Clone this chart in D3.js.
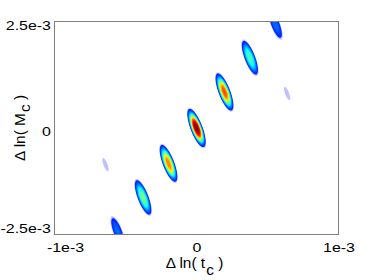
<!DOCTYPE html>
<meta charset="utf-8">
<style>
  body {
    margin: 0;
    background: #fff;
  }

  text {
    font-family: "Liberation Sans", Arial, sans-serif;
    fill: #000;
  }
</style>

<body>
  <div id="chart"></div>

  <script src="https://d3js.org/d3.v7.min.js"></script>

  <script>
    // likelihood peaks: position (delta ln tc, delta ln Mc) and height
    const peakT = [-0.555e-3, -0.376e-3, -0.197e-3, 0, 0.197e-3, 0.376e-3, 0.556e-3, -0.641e-3, 0.638e-3];
    const peakM = [-2.43e-3, -1.63e-3, -0.83e-3, 0, 0.845e-3, 1.65e-3, 2.43e-3, -0.86e-3, 0.81e-3];
    const peakH = [0.14, 0.44, 0.72, 1.0, 0.78, 0.39, 0.14, 0.034, 0.034];

    const xTicks = [-1e-3, 0, 1e-3];
    const xTickLabels = ["-1e-3", "0", "1e-3"];
    const yTicks = [-2.5e-3, 0, 2.5e-3];
    const yTickLabels = ["-2.5e-3", "0", "2.5e-3"];

    const width = 374;
    const height = 280;
    const margin = {left: 54.5, right: 35.5, top: 21.5, bottom: 45.5};

    const x = d3.scaleLinear()
      .domain([-1e-3, 1e-3])
      .range([margin.left, width - margin.right]);

    const y = d3.scaleLinear()
      .domain([-2.5e-3, 2.5e-3])
      .range([height - margin.bottom, margin.top]);

    // matlab jet colormap
    const jet = d3.scaleLinear()
      .domain([0, 0.125, 0.375, 0.625, 0.875, 1])
      .range(["#00007f", "#0000ff", "#00ffff", "#ffff00", "#ff0000", "#7f0000"])
      .interpolate(d3.interpolateRgb)
      .clamp(true);

    const svg = d3.select("#chart").append("svg")
      .attr("width", width)
      .attr("height", height);

    // sample the surface on a half pixel grid over the plot box
    const step = 0.5;
    const nx = Math.round((x.range()[1] - x.range()[0]) / step);
    const ny = Math.round((y.range()[0] - y.range()[1]) / step);
    const tilt = 21 * Math.PI / 180;
    const sa = Math.sin(tilt), ca = Math.cos(tilt);
    const sigA = 11.2, sigB = 3.2; // blob shape in px (long / short axis)

    const cx = peakT.map(d => x(d));
    const cy = peakM.map(d => y(d));

    const values = new Float64Array(nx * ny);
    for (let j = 0; j < ny; j++) {
      const py = margin.top + (j + 0.5) * step;
      for (let i = 0; i < nx; i++) {
        const px = margin.left + (i + 0.5) * step;
        let v = 0;
        for (let k = 0; k < peakH.length; k++) {
          const dx = px - cx[k], dy = py - cy[k];
          const u = (dx * sa + dy * ca) / sigA;
          const w = (dx * ca - dy * sa) / sigB;
          const r = Math.sqrt(u * u + w * w);
          v += peakH[k] * Math.exp(-0.5 * r * r * r);
        }
        values[j * nx + i] = v;
      }
    }

    const levels = [0.03].concat(d3.range(0.05, 1.0, 0.025));
    const bands = d3.contours()
      .size([nx, ny])
      .thresholds(levels)(values);

    svg.append("g")
      .attr("transform", `translate(${margin.left},${margin.top}) scale(${step})`)
      .selectAll("path")
      .data(bands)
      .join("path")
      .attr("d", d3.geoPath())
      .attr("fill", d => d.value < 0.05 ? "#c0c0ff" : jet(0.1 + 0.9 * (d.value + 0.0125)));

    // axes box
    svg.append("rect")
      .attr("x", x.range()[0])
      .attr("y", y.range()[1])
      .attr("width", x.range()[1] - x.range()[0])
      .attr("height", y.range()[0] - y.range()[1])
      .attr("fill", "none")
      .attr("stroke", "#808080")
      .attr("stroke-width", 1);

    const xAxis = svg.append("g")
      .attr("transform", `translate(0,${y.range()[0]})`)
      .call(d3.axisBottom(x)
        .tickValues(xTicks)
        .tickFormat((d, i) => xTickLabels[i])
        .tickSize(0)
        .tickPadding(9));
    xAxis.select(".domain").remove();
    xAxis.selectAll("text")
      .attr("font-size", 12)
      .attr("font-family", null)
      .attr("transform", (d, i) => `translate(${i === 0 ? 10.5 : 0},0) scale(1.33,1)`);

    const yAxis = svg.append("g")
      .attr("transform", `translate(${x.range()[0]},0)`)
      .call(d3.axisLeft(y)
        .tickValues(yTicks)
        .tickFormat((d, i) => yTickLabels[i])
        .tickSize(0)
        .tickPadding(3.5 / 1.33));
    yAxis.select(".domain").remove();
    yAxis.selectAll("text")
      .attr("font-size", 12)
      .attr("font-family", null)
      .attr("dy", (d, i) => i === 0 ? "-0.16em" : "0.63em")
      .attr("transform", "scale(1.33,1)");

    // axis titles
    const xTitle = svg.append("text")
      .attr("transform", `translate(${x(0) - 2},268) scale(1.1,1)`)
      .attr("text-anchor", "middle")
      .attr("font-size", 14);
    xTitle.append("tspan").text("\u0394 ln( t");
    xTitle.append("tspan").attr("dx", 1).attr("dy", 7).text("c");
    xTitle.append("tspan").attr("dy", -7).text(" )");

    const yTitle = svg.append("text")
      .attr("transform", `translate(25,${y(0)}) rotate(-90) scale(1.1,1)`)
      .attr("text-anchor", "middle")
      .attr("font-size", 14);
    yTitle.append("tspan").text("\u0394 ln( M");
    yTitle.append("tspan").attr("dx", 1).attr("dy", 5).text("c");
    yTitle.append("tspan").attr("dy", -5).text(" )");
  </script>
</body>
</html>
